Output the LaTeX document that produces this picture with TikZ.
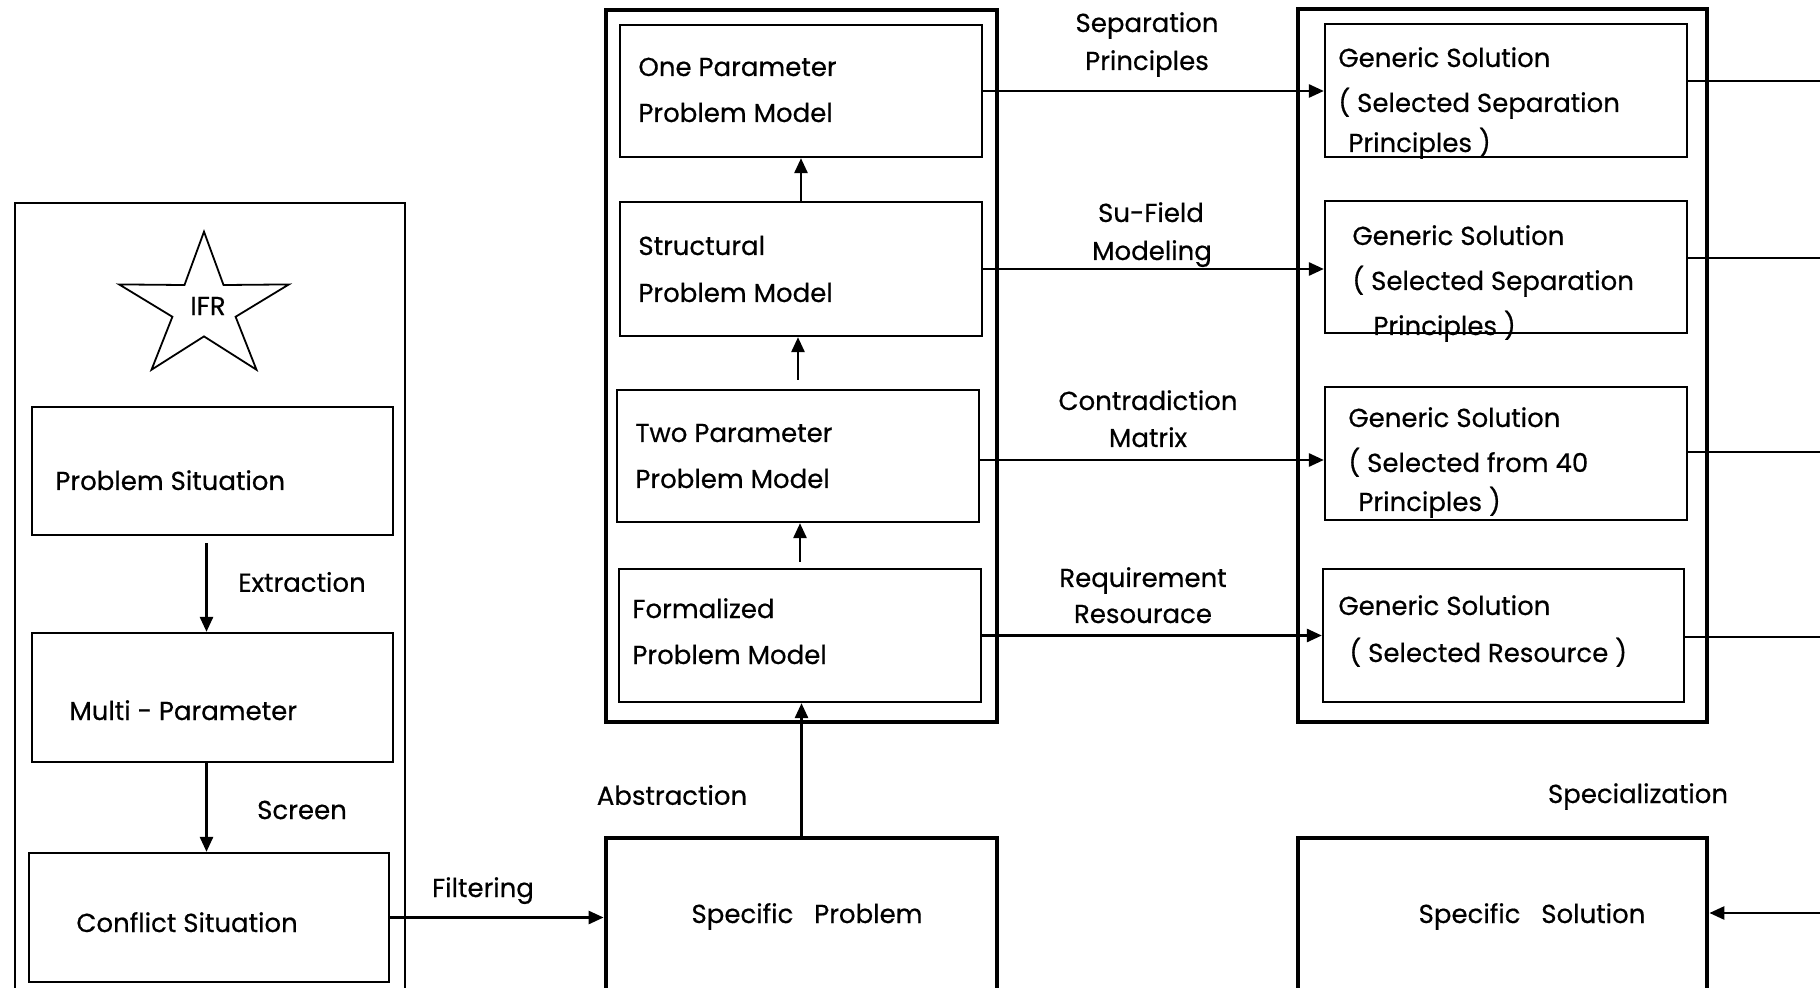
\documentclass[tikz,border=0pt]{standalone}
\usepackage{fontspec}
\setmainfont{Poppins}[FakeBold=0.5]
\usetikzlibrary{arrows.meta,fit}
\begin{document}
\begin{tikzpicture}[x=0.5pt,y=-0.5pt,
  box/.style={draw, line width=1.15pt, inner sep=0pt},
  frame/.style={draw, line width=2.4pt, inner sep=0pt},
  outline/.style={draw, line width=0.85pt, inner sep=0pt},
  txt/.style={inner sep=0pt, anchor=base west, font=\fontsize{13}{15}\selectfont},
  lbl/.style={inner sep=0pt, anchor=base, font=\fontsize{13}{15}\selectfont},
  arr/.style={line width=1.35pt, -{Triangle[length=7.5pt,width=6.5pt]}},
  link/.style={line width=1.2pt},
]
\useasboundingbox (0,0) rectangle (1820,988);
\clip (0,0) rectangle (1820,988);

% ---------------- left column: problem situation ----------------
\node[outline, fit={(15,203) (405,1010)}] (left) {};
\begin{scope}[shift={(204,308)}, xscale=1.17]
  \draw[line width=0.9pt, line join=miter]
    (-90:76.3) -- (-54:28.4) -- (-18:76.3) -- (18:28.4) -- (54:76.3) --
    (90:28.4) -- (126:76.3) -- (162:28.4) -- (198:76.3) -- (234:28.4) -- cycle;
\end{scope}
\node[lbl, anchor=center] (ifr) at (208,306) {IFR};

\node[box, fit={(32,407) (393,535)}] (ps) {};
\node[txt] (pst) at (55,490) {Problem Situation};
\node[box, fit={(32,633) (393,762)}] (mp) {};
\node[txt] (mpt) at (69,720) {Multi - Parameter};
\node[box, fit={(29,853) (389,982)}] (cs) {};
\node[txt] (cst) at (76,932) {Conflict Situation};

\draw[arr, shorten <=3.5pt] ([xshift=-3pt]ps.south) -- ([xshift=-3pt]ps.south |- mp.north);
\draw[arr] ([xshift=-3pt]mp.south) -- ([xshift=-3pt]mp.south |- cs.north);
\node[lbl, anchor=center] (ext) at (302,582) {Extraction};
\node[lbl, anchor=center] (scr) at (302,810) {Screen};

% ---------------- middle column: problem models ----------------
\node[frame, fit={(606,10) (997,722)}] (mid) {};
\node[box, fit={(620,25) (982,157)}] (one) {};
\node[txt] (onea) at (638,76) {One Parameter};
\node[txt] (oneb) at (638,122) {Problem Model};
\node[box, fit={(620,202) (982,336)}] (str) {};
\node[txt] (stra) at (638,255) {Structural};
\node[txt] (strb) at (638,302) {Problem Model};
\node[box, fit={(617,390) (979,522)}] (two) {};
\node[txt] (twoa) at (635,442) {Two Parameter};
\node[txt] (twob) at (635,488) {Problem Model};
\node[box, fit={(619,569) (981,702)}] (frm) {};
\node[txt] (frma) at (632,618) {Formalized};
\node[txt] (frmb) at (632,664) {Problem Model};

\draw[arr] (str.north) -- (one.south);
\draw[arr, shorten <=4.5pt] (two.north) -- (two.north |- str.south);
\draw[arr, shorten <=3pt] (frm.north) -- (frm.north |- two.south);

\node[frame, fit={(606,838) (997,990)}] (sp) {};
\node[lbl] (spt) at (807,923) {Specific\hspace{0.8em}Problem};
\draw[arr] (sp.north) -- (sp.north |- frm.south);
\node[lbl, anchor=center] (abs) at (672,795) {Abstraction};
\draw[arr] (cs.east) -- (cs.east -| sp.west);
\node[lbl] (flt) at (483,897) {Filtering};

% ---------------- right column: generic solutions ----------------
\node[frame, fit={(1298,9) (1707,722)}] (rgt) {};
\node[box, fit={(1325,24) (1687,157)}] (g1) {};
\node[txt] (g1a) at (1338,67) {Generic Solution};
\node[txt] (g1b) at (1338,112) {( Selected Separation};
\node[txt] (g1c) at (1348,152) {Principles )};
\node[box, fit={(1325,201) (1687,333)}] (g2) {};
\node[txt] (g2a) at (1352,245) {Generic Solution};
\node[txt] (g2b) at (1352,290) {( Selected Separation};
\node[txt] (g2c) at (1373,335) {Principles )};
\node[box, fit={(1325,387) (1687,520)}] (g3) {};
\node[txt] (g3a) at (1348,427) {Generic Solution};
\node[txt] (g3b) at (1348,472) {( Selected from 40};
\node[txt] (g3c) at (1358,511) {Principles )};
\node[box, fit={(1323,569) (1684,702)}] (g4) {};
\node[txt] (g4a) at (1338,615) {Generic Solution};
\node[txt] (g4b) at (1349,662) {( Selected Resource )};

\draw[arr] (one.east) -- (one.east -| g1.west);
\draw[arr] (str.east) -- (str.east -| g2.west);
\draw[arr] ([yshift=-2pt]two.east) -- ([yshift=-2pt]two.east -| g3.west);
\draw[arr] (frm.east) -- (frm.east -| g4.west);

\node[lbl] (l1a) at (1147,32) {Separation};
\node[lbl] (l1b) at (1147,70) {Principles};
\node[lbl] (l2a) at (1151,222) {Su-Field};
\node[lbl] (l2b) at (1152,260) {Modeling};
\node[lbl] (l3a) at (1148,410) {Contradiction};
\node[lbl] (l3b) at (1148,447) {Matrix};
\node[lbl] (l4a) at (1143,587) {Requirement};
\node[lbl] (l4b) at (1143,623) {Resourace};

\coordinate (e1) at (1820,81);
\coordinate (e2) at (1820,258);
\coordinate (e3) at (1820,452);
\coordinate (e4) at (1820,637);
\draw[link] (g1.east |- e1) -- (e1);
\draw[link] (g2.east |- e2) -- (e2);
\draw[link] (g3.east |- e3) -- (e3);
\draw[link] (g4.east |- e4) -- (e4);

\node[frame, fit={(1298,838) (1707,990)}] (ss) {};
\node[lbl] (sst) at (1532,923) {Specific\hspace{0.8em}Solution};
\node[lbl] (spz) at (1638,803) {Specialization};
\coordinate (e5) at (1820,913);
\draw[arr] (e5) -- (e5 -| ss.east);
\end{tikzpicture}
\end{document}
